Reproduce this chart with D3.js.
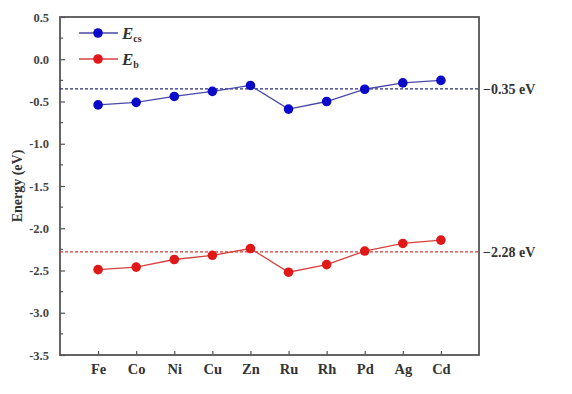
<!DOCTYPE html>
<html><head><meta charset="utf-8">
<script src="https://cdn.jsdelivr.net/npm/d3@7"></script>
<style>body{margin:0;background:#fff}svg{display:block}text{font-family:"Liberation Serif","Times New Roman",serif;font-weight:bold}</style>
</head><body>
<script>
const categories = ["Fe","Co","Ni","Cu","Zn","Ru","Rh","Pd","Ag","Cd"];
const ecsValues = [-0.54,-0.51,-0.44,-0.38,-0.31,-0.59,-0.50,-0.355,-0.28,-0.25];
const ebValues = [-2.49,-2.46,-2.37,-2.32,-2.24,-2.52,-2.43,-2.27,-2.18,-2.14];
const refLines = [{v:-0.35,label:"\u22120.35 eV",color:"#2b2b80"},{v:-2.28,label:"\u22122.28 eV",color:"#d23a3a"}];
const yTicks = [0.5,0.0,-0.5,-1.0,-1.5,-2.0,-2.5,-3.0,-3.5];

const W=572,H=394;
const m={l:60,t:17,r:479,b:355};
const svg=d3.select("body").append("svg").attr("width",W).attr("height",H);
const x=d3.scalePoint().domain(categories).range([m.l,m.r]).padding(1);
const y=d3.scaleLinear().domain([-3.5,0.5]).range([m.b,m.t]);
const axisColor="#555";

// y axis
const ya=svg.append("g").attr("transform",`translate(${m.l},0)`)
  .call(d3.axisLeft(y).tickValues(yTicks).tickFormat(d3.format(".1f")).tickSizeInner(-5).tickSizeOuter(0).tickPadding(11));
ya.select(".domain").remove();
ya.selectAll("line").attr("stroke",axisColor).attr("stroke-width",1.2);
ya.selectAll("text").attr("font-size",12.5).attr("fill","#444").text(d=>d3.format(".1f")(d).replace("\u2212","-"));
// minor ticks
svg.append("g").selectAll("line").data(d3.range(-3.25,0.5,0.5)).join("line")
  .attr("x1",m.l).attr("x2",m.l+3).attr("y1",d=>y(d)).attr("y2",d=>y(d)).attr("stroke",axisColor).attr("stroke-width",1.2);

// x axis
const xa=svg.append("g").attr("transform",`translate(0,${m.b})`)
  .call(d3.axisBottom(x).tickSizeInner(-4).tickSizeOuter(0).tickPadding(9));
xa.select(".domain").remove();
xa.selectAll("line").attr("stroke",axisColor).attr("stroke-width",1.2);
xa.selectAll("text").attr("font-size",14.5).attr("fill","#333");

// frame
svg.append("rect").attr("x",m.l).attr("y",m.t).attr("width",m.r-m.l).attr("height",m.b-m.t)
  .attr("fill","none").attr("stroke",axisColor).attr("stroke-width",1.8);

// y label
svg.append("text").attr("transform",`translate(22,${(m.t+m.b)/2}) rotate(-90)`).attr("text-anchor","middle")
  .attr("font-size",14).attr("fill","#333").text("Energy (eV)");

// reference lines
refLines.forEach(r=>{
  svg.append("line").attr("x1",m.l).attr("x2",m.r).attr("y1",y(r.v)).attr("y2",y(r.v))
    .attr("stroke",r.color).attr("stroke-width",1.1).attr("stroke-dasharray","3,2");
  svg.append("text").attr("x",m.r+4).attr("y",y(r.v)).attr("dy","0.35em").attr("font-size",14).attr("fill","#333").text(r.label);
});

const series=[{vals:ecsValues,line:"#4848a8",fill:"#0a0ac8"},{vals:ebValues,line:"#d84040",fill:"#e01818"}];
series.forEach(s=>{
  const data=categories.map((c,i)=>({c,v:s.vals[i]}));
  svg.append("path").datum(data).attr("fill","none").attr("stroke",s.line).attr("stroke-width",1.3)
    .attr("d",d3.line().x(d=>x(d.c)).y(d=>y(d.v)));
  svg.append("g").selectAll("circle").data(data).join("circle")
    .attr("cx",d=>x(d.c)).attr("cy",d=>y(d.v)).attr("r",4.8).attr("fill",s.fill);
});

// legend
const leg=[{y:33,s:series[0],sub:"cs"},{y:59,s:series[1],sub:"b"}];
leg.forEach(l=>{
  svg.append("line").attr("x1",79).attr("x2",118).attr("y1",l.y).attr("y2",l.y).attr("stroke",l.s.line).attr("stroke-width",1.3);
  svg.append("circle").attr("cx",98).attr("cy",l.y).attr("r",4.8).attr("fill",l.s.fill);
  const t=svg.append("text").attr("x",122).attr("y",l.y+6).attr("font-size",17).attr("fill","#333");
  t.append("tspan").attr("font-style","italic").text("E");
  t.append("tspan").attr("font-size",10).attr("dy",3).text(l.sub);
});
</script>
</body></html>
